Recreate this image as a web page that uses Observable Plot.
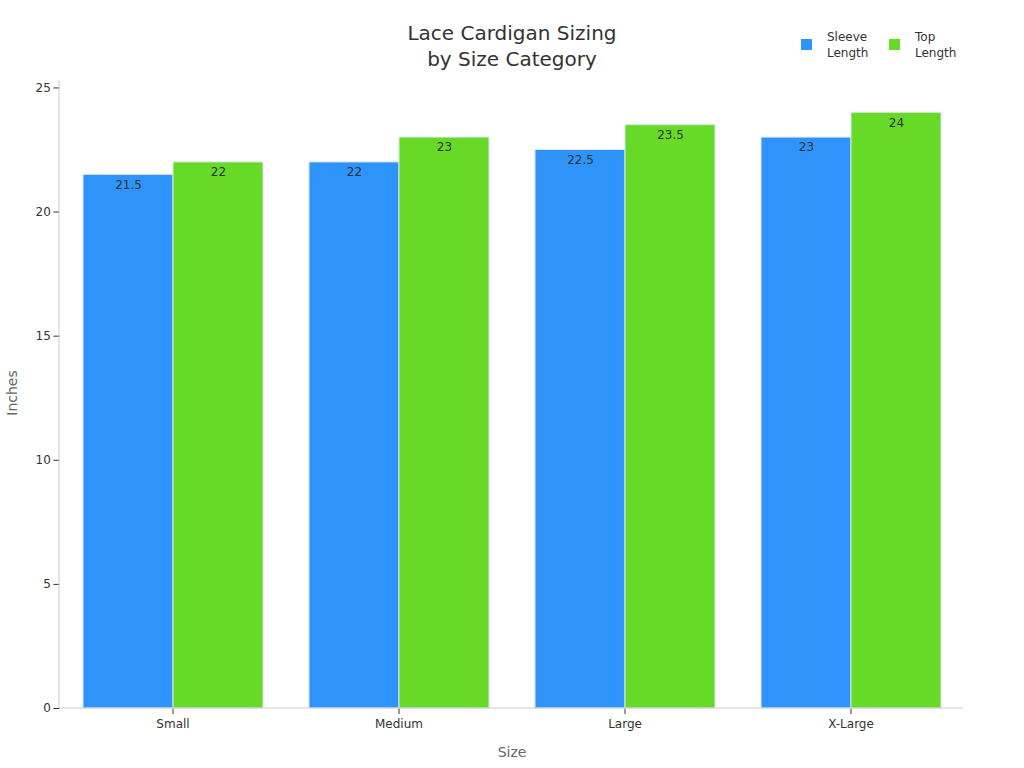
<!DOCTYPE html>
<html>
<head>
<meta charset="utf-8">
<script src="https://cdn.jsdelivr.net/npm/d3@7"></script>
<script src="https://cdn.jsdelivr.net/npm/@observablehq/plot@0.6"></script>
<style>
  html, body { margin: 0; padding: 0; background: #fff; }
  #wrap { position: relative; width: 1024px; height: 768px; font-family: "DejaVu Sans", sans-serif; }
  #title { position: absolute; left: 0; width: 1024px; top: 20px; text-align: center; font-size: 20px; line-height: 26px; color: #333; }
  .leg { position: absolute; top: 29px; font-size: 12px; line-height: 16px; color: #333; }
  .sw { position: absolute; width: 11px; height: 11px; top: 10px; }
  #xlabel { position: absolute; left: 0; width: 1024px; top: 744px; text-align: center; font-size: 14px; color: #666; }
  #ylabel { position: absolute; left: 12px; top: 393px; font-size: 14px; color: #666; transform: translate(-50%, -50%) rotate(-90deg); white-space: nowrap; }
  #chart { position: absolute; left: 0; top: 0; }
</style>
</head>
<body>
<div id="wrap">
  <div id="chart"></div>
  <div id="title">Lace Cardigan Sizing<br>by Size Category</div>
  <div class="leg" style="left:801px;"><span class="sw" style="left:0;background:#2E93FA"></span><span style="position:absolute;left:26px;white-space:nowrap">Sleeve<br>Length</span></div>
  <div class="leg" style="left:889px;"><span class="sw" style="left:0;background:#66DA26"></span><span style="position:absolute;left:26px;white-space:nowrap">Top<br>Length</span></div>
  <div id="xlabel">Size</div>
  <div id="ylabel">Inches</div>
</div>
<script>
const sizes = ["Small", "Medium", "Large", "X-Large"];
const seriesNames = ["Sleeve Length", "Top Length"];
const sleeveLength = [21.5, 22, 22.5, 23];
const topLength = [22, 23, 23.5, 24];
const seriesColors = ["#2E93FA", "#66DA26"];
const yTicks = [0, 5, 10, 15, 20, 25];

const data = [];
sizes.forEach((s, i) => {
  data.push({size: s, series: seriesNames[0], value: sleeveLength[i]});
  data.push({size: s, series: seriesNames[1], value: topLength[i]});
});

const W = 1024, H = 768, mL = 59, mR = 61, mT = 80, mB = 60;
const padIn = 0.2, padOut = 0.1;
const step = (W - mL - mR) / (sizes.length - padIn + 2 * padOut);
const outerOffset = padOut * step;

const plot = Plot.plot({
  width: W, height: H,
  marginLeft: mL, marginRight: mR, marginTop: mT, marginBottom: mB,
  style: {fontFamily: "DejaVu Sans, sans-serif", fontSize: "12px", color: "#333", background: "transparent"},
  fx: {domain: sizes, paddingInner: padIn, paddingOuter: padOut, label: null, tickSize: 6, tickPadding: 5},
  x: {domain: seriesNames, padding: 0, axis: null},
  y: {domain: [0, 25.3], label: null, axis: null},
  color: {domain: seriesNames, range: seriesColors},
  marks: [
    Plot.axisY({ticks: yTicks, tickSize: 6, tickPadding: 3, tickFormat: d => String(d), label: null, dx: -outerOffset}),
    Plot.barY(data, {fx: "size", x: "series", y: "value", fill: "series", stroke: "#dfe6ea", strokeWidth: 1}),
    Plot.text(data, {fx: "size", x: "series", y: "value", text: d => String(d.value), dy: 10, fill: "#333", fontSize: 12})
  ]
});
document.getElementById("chart").appendChild(plot);

// axis lines
const svg = d3.select(plot.tagName.toLowerCase() === "svg" ? plot : plot.querySelector("svg"));
const yS = plot.scale("y");
svg.append("line").attr("x1", mL).attr("x2", mL).attr("y1", mT).attr("y2", yS.apply(0))
  .attr("stroke", "#ccc").attr("stroke-width", 1);
svg.append("line").attr("x1", mL).attr("x2", W - mR).attr("y1", yS.apply(0)).attr("y2", yS.apply(0))
  .attr("stroke", "#ccc").attr("stroke-width", 1);
</script>
</body>
</html>
